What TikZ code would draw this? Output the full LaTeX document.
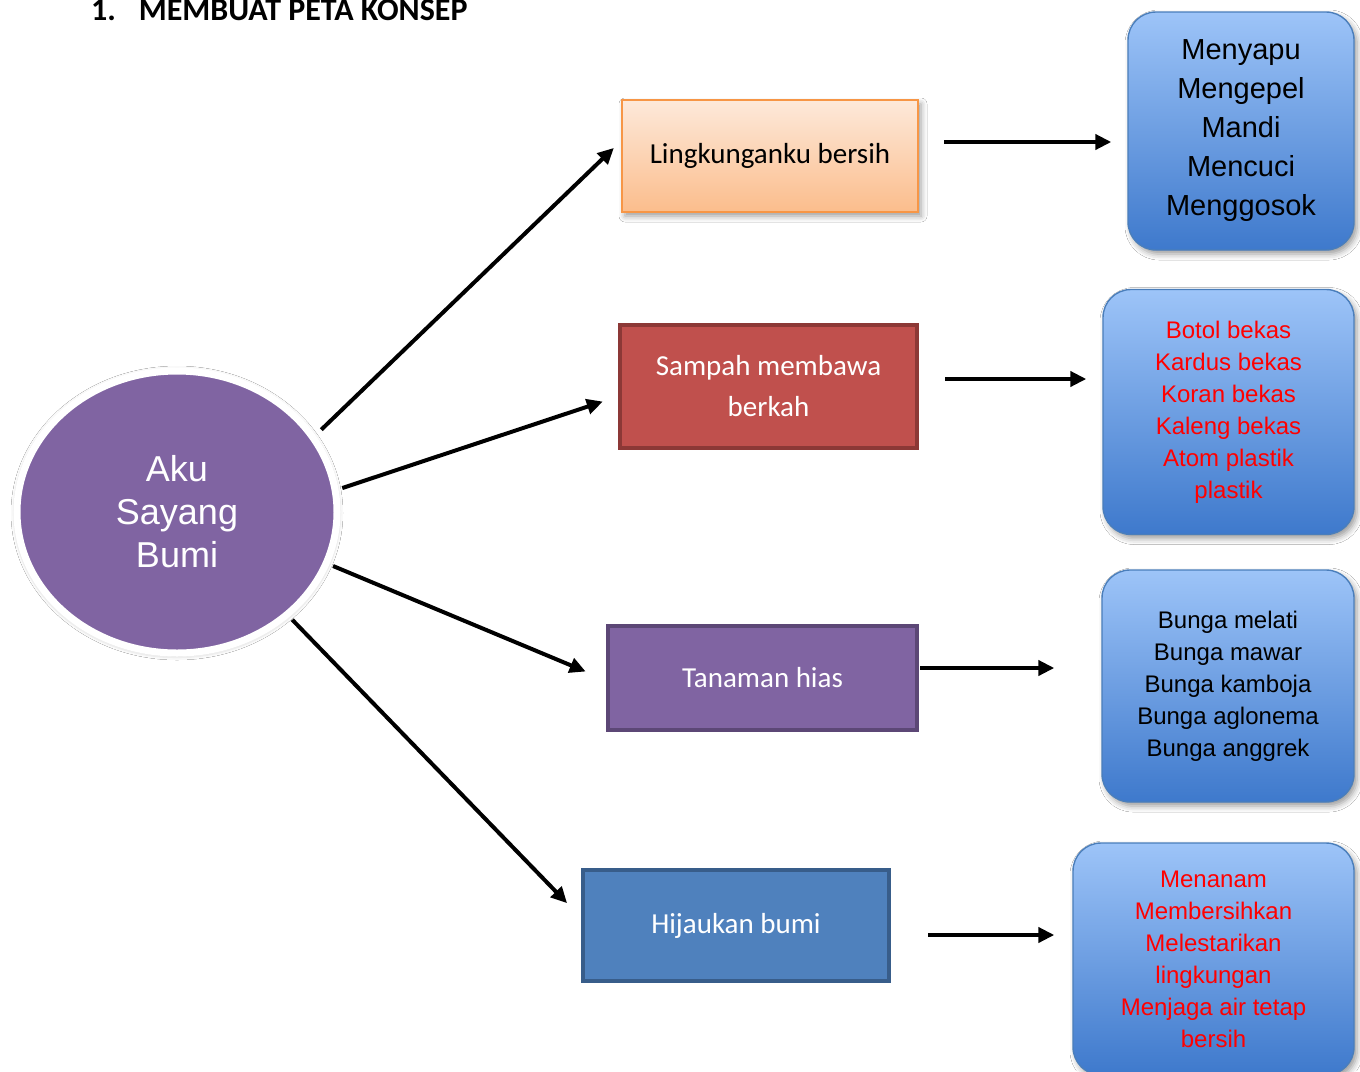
\documentclass[tikz,border=0pt]{standalone}
\usepackage{fontspec}
\setmainfont{Carlito}
\newfontfamily\arialfont{Liberation Sans}
\usetikzlibrary{shapes.geometric, arrows.meta, shadows.blur}

\definecolor{akupurple}{HTML}{8064A2}
\definecolor{akuedge}{HTML}{5C4776}
\definecolor{orangetop}{HTML}{FDE9DA}
\definecolor{orangebot}{HTML}{FBBD8C}
\definecolor{orangeedge}{HTML}{F79646}
\definecolor{sampahred}{HTML}{C0504D}
\definecolor{sampahedge}{HTML}{8C3836}
\definecolor{hijaublue}{HTML}{4F81BD}
\definecolor{hijauedge}{HTML}{385D8A}
\definecolor{listtop}{HTML}{9DC4F8}
\definecolor{listbot}{HTML}{3E79CC}
\definecolor{listedge}{HTML}{4A7EBB}
\definecolor{listred}{HTML}{FF0000}

\tikzset{
  arr/.style={line width=2pt, -{Triangle[length=8pt, width=7.5pt]}},
  flatbox/.style={rectangle, line width=2pt, text=white, align=center,
    font=\fontsize{14.5pt}{20.5pt}\selectfont},
  listbox/.style={rectangle, rounded corners=14pt, draw=listedge, line width=0.7pt,
    top color=listtop, bottom color=listbot, align=center,
    font=\arialfont\fontsize{12pt}{16pt}\selectfont,
    blur shadow={shadow xshift=1.5pt, shadow yshift=-2pt, shadow blur radius=3pt}},
}

\begin{document}
\begin{tikzpicture}[x=0.5pt, y=-0.5pt]
  \path[use as bounding box, fill=white] (0,0) rectangle (1360,1071);

  % judul
  \node[anchor=base west, font=\bfseries\fontsize{16pt}{18pt}\selectfont] (judul) at (84,20)
    {1.\hspace{11.5pt}MEMBUAT PETA KONSEP};

  % pusat peta konsep
  \node[ellipse, draw=white, line width=3.5pt, fill=akupurple, text=white, align=center,
    minimum width=160pt, minimum height=141pt,
    font=\arialfont\fontsize{18pt}{21.5pt}\selectfont,
    blur shadow={shadow xshift=0pt, shadow yshift=-0.5pt, shadow blur radius=3pt, shadow opacity=35}]
    (aku) at (177,512) {Aku\\Sayang\\Bumi};

  % kotak tengah
  \node[rectangle, draw=orangeedge, line width=1pt, top color=orangetop, bottom color=orangebot,
    minimum width=148pt, minimum height=56pt, font=\fontsize{14.5pt}{18pt}\selectfont,
    blur shadow={shadow xshift=1.5pt, shadow yshift=-2pt, shadow blur radius=3pt}]
    (bersih) at (770,156) {Lingkunganku bersih};
  \node[flatbox, draw=sampahedge, fill=sampahred, minimum width=148.5pt, minimum height=61.5pt]
    (sampah) at (768.5,386.5) {Sampah membawa\\berkah};
  \node[flatbox, draw=akuedge, fill=akupurple, minimum width=154.5pt, minimum height=52pt]
    (tanaman) at (762.5,678) {Tanaman hias};
  \node[flatbox, draw=hijauedge, fill=hijaublue, minimum width=153pt, minimum height=55.5pt]
    (hijau) at (736,925.5) {Hijaukan bumi};

  % kotak contoh
  \node[listbox, minimum width=113pt, minimum height=119pt,
    font=\arialfont\fontsize{14.5pt}{19.5pt}\selectfont]
    (kegiatan) at (1241,131) {Menyapu\\Mengepel\\Mandi\\Mencuci\\Menggosok};
  \node[listbox, text=listred, minimum width=125.5pt, minimum height=122.5pt]
    (bekas) at (1228.5,412) {Botol bekas\\Kardus bekas\\Koran bekas\\Kaleng bekas\\Atom plastik\\plastik};
  \node[listbox, minimum width=126pt, minimum height=116pt]
    (bunga) at (1228,686) {Bunga melati\\Bunga mawar\\Bunga kamboja\\Bunga aglonema\\Bunga anggrek};
  \node[listbox, text=listred, minimum width=140.5pt, minimum height=116pt]
    (lestari) at (1213.5,959) {Menanam\\Membersihkan\\Melestarikan\\lingkungan\\Menjaga air tetap\\bersih};

  % panah dari pusat
  \draw[arr, shorten <=4pt, shorten >=5pt] (aku.29) -- ([yshift=7.5pt]bersih.west);
  \draw[arr, shorten <=2pt, shorten >=8pt] (aku.8.5) -- ([yshift=-5pt]sampah.west);
  \draw[arr, shorten <=2pt, shorten >=11pt] (aku.-19.5) -- ([yshift=-1pt]tanaman.west);
  \draw[arr, shorten <=2pt, shorten >=10pt] (aku.-43) -- ([yshift=4pt]hijau.west);

  % panah ke contoh
  \draw[arr] ([shift={(12.5pt,7pt)}]bersih.east) -- ([shift={(-8pt,-5.5pt)}]kegiatan.west);
  \draw[arr] ([shift={(13pt,3.75pt)}]sampah.east) -- ([shift={(-8pt,16.5pt)}]bekas.west);
  \draw[arr] ([shift={(0.5pt,5pt)}]tanaman.east) -- ([shift={(-23.5pt,9pt)}]bunga.west);
  \draw[arr] ([shift={(18.5pt,-4.75pt)}]hijau.east) -- ([shift={(-9pt,12pt)}]lestari.west);
\end{tikzpicture}
\end{document}
